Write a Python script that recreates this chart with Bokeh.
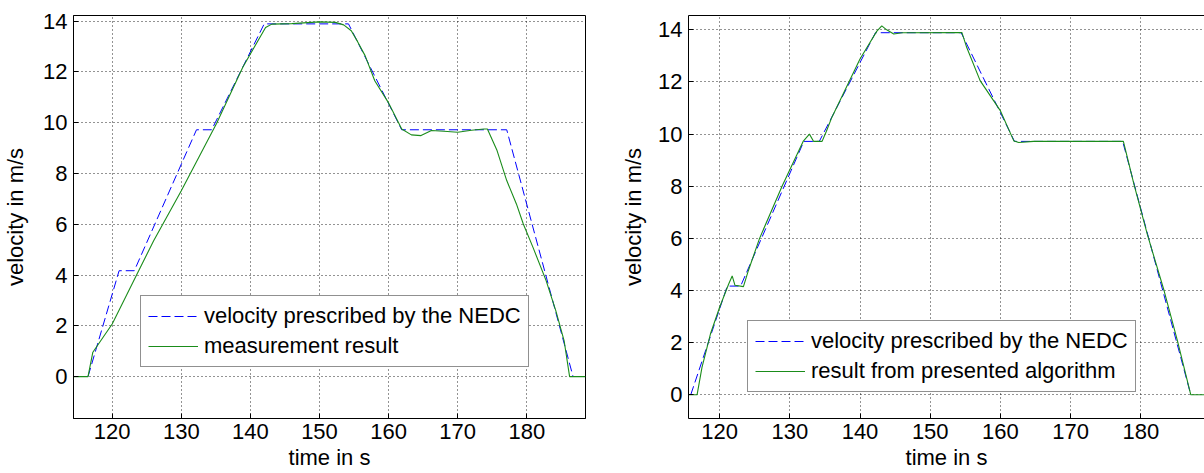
from bokeh.plotting import figure
from bokeh.models import Range1d, LinearAxis, Legend, LegendItem, FixedTicker
from bokeh.layouts import row
from bokeh.embed import file_html
from bokeh.resources import INLINE

# ---------------- data ----------------
x_ticks = [120, 130, 140, 150, 160, 170, 180]
y_ticks = [0, 2, 4, 6, 8, 10, 12, 14]

label_nedc = "velocity prescribed by the NEDC"
label_meas = "measurement result"
label_algo = "result from presented algorithm"

# left panel: prescribed NEDC velocity
t_nedc_left = [116.5, 121.0, 123.2, 132.2, 134.4, 142.0, 154.2, 161.9, 177.1, 186.7]
v_nedc_left = [0.0, 4.17, 4.17, 9.72, 9.72, 13.89, 13.89, 9.72, 9.72, 0.0]

# left panel: measurement result
t_meas = [114.4, 116.5, 117.2, 120.0, 123.6, 126.0, 130.0, 135.1, 138.9, 142.2,
          143.1, 146.0, 150.0, 152.3, 153.5, 154.6, 155.5, 156.6, 158.0, 159.95,
          161.9, 163.3, 164.7, 166.2, 168.0, 170.0, 172.0, 173.8, 174.3, 175.7,
          177.1, 178.5, 179.5, 180.9, 182.8, 184.2, 185.4, 186.2, 188.5]
v_meas = [0.0, 0.0, 0.96, 2.07, 4.04, 5.35, 7.32, 9.97, 12.18, 13.75,
          13.88, 13.9, 13.97, 13.95, 13.85, 13.62, 13.2, 12.64, 11.65, 10.8,
          9.75, 9.52, 9.49, 9.69, 9.66, 9.62, 9.7, 9.75, 9.75, 8.9,
          7.72, 6.8, 6.01, 5.09, 3.78, 2.6, 1.42, 0.0, 0.0]

# right panel: prescribed NEDC velocity
t_nedc_right = [115.9, 121.1, 123.0, 132.0, 134.2, 142.2, 154.4, 162.0, 177.4, 187.1]
v_nedc_right = [0.0, 4.17, 4.17, 9.72, 9.72, 13.89, 13.89, 9.72, 9.72, 0.0]

# right panel: result from presented algorithm
t_algo = [115.58, 116.8, 117.5, 118.7, 120.0, 121.3, 121.8, 122.2, 123.4, 124.1,
          125.7, 128.9, 131.9, 132.8, 133.4, 134.6, 135.2, 136.0, 140.0, 142.4,
          143.1, 143.8, 144.8, 146.0, 154.5, 155.2, 157.1, 160.0, 161.9, 162.6,
          164.7, 177.5, 179.0, 180.9, 183.3, 185.2, 187.1, 189.05]
v_algo = [0.0, 0.0, 1.05, 2.33, 3.35, 4.25, 4.56, 4.2, 4.15, 4.76,
          6.0, 8.0, 9.72, 10.0, 9.72, 9.72, 10.1, 10.65, 12.88, 13.95,
          14.15, 14.0, 13.84, 13.89, 13.9, 13.32, 12.05, 10.89, 9.74, 9.68,
          9.72, 9.72, 8.08, 6.16, 3.99, 2.07, 0.0, 0.0]

FONT = "Liberation Sans"
FS = "22px"
BLUE = "#0000ff"
GREEN = "#1a8c1a"


def style_axis(ax):
    ax.major_tick_in = 5
    ax.major_tick_out = 0
    ax.minor_tick_line_color = None
    ax.major_tick_line_color = "black"
    ax.axis_line_color = "black"
    ax.major_label_text_font = FONT
    ax.major_label_text_color = "black"
    ax.major_label_text_font_size = FS
    ax.axis_label_text_font = FONT
    ax.axis_label_text_font_style = "normal"
    ax.axis_label_text_font_size = FS
    ax.axis_label_text_color = "black"


def make_panel(width, xr, yr, border_left, border_right, t1, v1, t2, v2, lab2,
               legend_loc, ylab_standoff, closed_box):
    p = figure(width=width, height=473, x_range=Range1d(*xr), y_range=Range1d(*yr),
               output_backend="svg", toolbar_location=None,
               min_border_left=border_left, min_border_right=border_right,
               min_border_top=15, min_border_bottom=55,
               background_fill_color="white", border_fill_color="white")

    p.xaxis.ticker = FixedTicker(ticks=x_ticks)
    p.yaxis.ticker = FixedTicker(ticks=y_ticks)
    style_axis(p.xaxis[0])
    style_axis(p.yaxis[0])
    p.xaxis.axis_label = "time in s"
    p.yaxis.axis_label = "velocity in m/s"
    p.xaxis.major_label_standoff = 5
    p.xaxis.axis_label_standoff = 3
    p.yaxis.major_label_standoff = 6
    p.yaxis.axis_label_standoff = ylab_standoff

    if closed_box:
        p.outline_line_color = "black"
        p.outline_line_width = 1
    else:
        # box is cut off on the right: draw only the top edge
        p.outline_line_color = None
        top = LinearAxis(ticker=FixedTicker(ticks=[]), axis_line_color="black",
                         major_tick_line_color=None, minor_tick_line_color=None)
        p.add_layout(top, "above")

    for g in (p.xgrid[0], p.ygrid[0]):
        g.grid_line_color = "black"
        g.grid_line_dash = "1 3"
        g.grid_line_width = 1
        g.grid_line_alpha = 0.85
    p.xgrid.ticker = FixedTicker(ticks=x_ticks)
    p.ygrid.ticker = FixedTicker(ticks=y_ticks)

    r1 = p.line(t1, v1, line_color=BLUE, line_width=1, line_dash="9 4")
    r2 = p.line(t2, v2, line_color=GREEN, line_width=1.1)

    legend = Legend(items=[LegendItem(label=label_nedc, renderers=[r1]),
                           LegendItem(label=lab2, renderers=[r2])],
                    location=legend_loc, margin=0, padding=7, spacing=4,
                    label_height=24, glyph_height=24, glyph_width=50,
                    label_standoff=6, label_text_font=FONT,
                    label_text_font_size=FS, label_text_color="black",
                    border_line_color="#222222", border_line_width=1,
                    background_fill_color="white", background_fill_alpha=1.0)
    p.add_layout(legend)
    return p


p1 = make_panel(600, (114.4, 188.5), (-1.65, 14.22), 69, 15,
                t_nedc_left, v_nedc_left, t_meas, v_meas, label_meas,
                (67, 51), 12, True)
p2 = make_panel(604, (115.58, 189.05), (-0.91, 14.55), 88, 0,
                t_nedc_right, v_nedc_right, t_algo, v_algo, label_algo,
                (59, 26), 9, False)

layout = row(p1, p2, spacing=0)
open("out.html", "w").write(file_html(layout, INLINE))
